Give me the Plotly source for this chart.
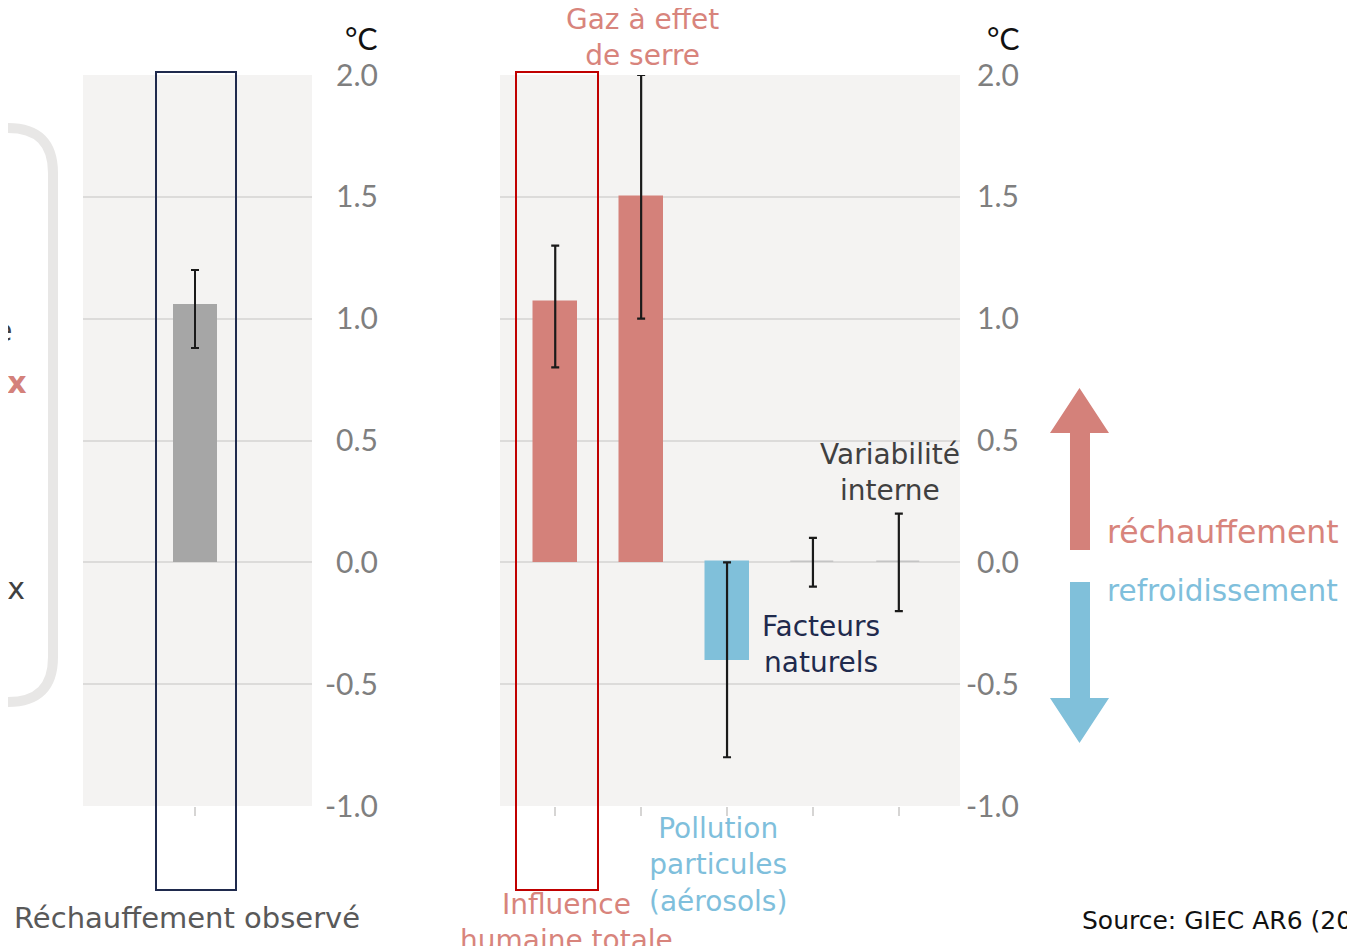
import plotly.graph_objects as go

# ---------------- data ----------------
obs_categories = ["Réchauffement observé"]
obs_values = [1.06]
obs_low = [0.88]
obs_high = [1.20]

attr_categories = ["Influence humaine totale", "Gaz à effet de serre",
                   "Pollution particules (aérosols)", "Facteurs naturels",
                   "Variabilité interne"]
attr_values = [1.07, 1.50, -0.40, 0.00, 0.00]
attr_low = [0.80, 1.00, -0.80, -0.10, -0.20]
attr_high = [1.30, 2.00, 0.00, 0.10, 0.20]

y_tickvals = [-1.0, -0.5, 0.0, 0.5, 1.0, 1.5, 2.0]
y_ticktext = ["-1.0", "-0.5", "0.0", "0.5", "1.0", "1.5", "2.0"]

# ---------------- styles ----------------
W, H = 1355, 946
OFF = 8  # page body margin
RED = "#d4817a"
RED_TXT = "#d8847c"
BLUE = "#80c0da"
BLUE_TXT = "#7fbfdc"
GREY_BAR = "#a6a6a6"
NAVY = "#1f2a4d"
BG = "#f4f3f2"
GRID = "#dcdbda"
FONT = "DejaVu Sans"
TICKFONT = "Lato"


def px(x):
    return (x - OFF) / W


def py(y):
    return 1 - (y - OFF) / H


def path(points, close=True):
    s = "M " + " L ".join(f"{px(x):.5f},{py(y):.5f}" for x, y in points)
    return s + (" Z" if close else "")


def err(vals, low, high):
    plus = [h - v for v, h in zip(vals, high)]
    minus = [v - l for v, l in zip(vals, low)]
    return dict(type="data", symmetric=False, array=plus, arrayminus=minus,
                color="#1a1a1a", thickness=2.2, width=4)


fig = go.Figure()

fig.add_trace(go.Bar(
    x=obs_categories, y=obs_values, width=0.5,
    marker=dict(color=GREY_BAR, line=dict(width=0)),
    error_y=err(obs_values, obs_low, obs_high),
    xaxis="x", yaxis="y", showlegend=False, hoverinfo="skip"))

attr_colors = [RED, RED, BLUE, "#c4c4c4", "#c4c4c4"]
fig.add_trace(go.Bar(
    x=attr_categories, y=attr_values, width=0.5,
    marker=dict(color=attr_colors, line=dict(width=1.5, color=attr_colors)),
    error_y=err(attr_values, attr_low, attr_high),
    xaxis="x2", yaxis="y2", showlegend=False, hoverinfo="skip"))

ydom = [py(806), py(75)]
common_y = dict(range=[-1, 2], domain=ydom, tickvals=y_tickvals, ticktext=y_ticktext,
                showgrid=True, gridcolor=GRID, gridwidth=2, zeroline=False,
                showline=False, ticks="", side="left", anchor="free",
                automargin=False,
                tickfont=dict(family=TICKFONT, size=30, color="#7f7f7f"),
                fixedrange=True)
common_x = dict(type="category", showticklabels=False, showgrid=False,
                zeroline=False, showline=False, ticks="outside", ticklen=9,
                tickwidth=2, tickcolor="#d6d5d4", fixedrange=True, automargin=False)

fig.update_layout(
    width=W, height=H,
    margin=dict(l=0, r=0, t=0, b=0, pad=0, autoexpand=False),
    paper_bgcolor="white", plot_bgcolor=BG,
    bargap=0,
    xaxis=dict(common_x, domain=[px(83), px(312)], range=[-1.273, 1.33], anchor="y"),
    yaxis=dict(common_y, position=px(378)),
    xaxis2=dict(common_x, domain=[px(500), px(960)], range=[-0.643, 4.712], anchor="y2"),
    yaxis2=dict(common_y, position=px(1019)),
)

shapes = []
# left rounded frame (partially visible)
shapes.append(dict(type="path", xref="paper", yref="paper",
                   path=(f"M {px(-30):.5f},{py(128):.5f} L {px(8):.5f},{py(128):.5f} "
                         f"Q {px(53):.5f},{py(128):.5f} {px(53):.5f},{py(173):.5f} "
                         f"L {px(53):.5f},{py(657):.5f} "
                         f"Q {px(53):.5f},{py(702):.5f} {px(8):.5f},{py(702):.5f} "
                         f"L {px(-30):.5f},{py(702):.5f}"),
                   line=dict(color="#e8e7e6", width=10)))
# highlight boxes
shapes.append(dict(type="rect", xref="paper", yref="paper",
                   x0=px(156), x1=px(236), y0=py(890), y1=py(72),
                   line=dict(color=NAVY, width=2)))
shapes.append(dict(type="rect", xref="paper", yref="paper",
                   x0=px(516), x1=px(598), y0=py(890), y1=py(72),
                   line=dict(color="#c00000", width=2)))
# arrows
shapes.append(dict(type="path", xref="paper", yref="paper",
                   path=path([(1070, 550), (1070, 433), (1050, 433), (1079.5, 388),
                              (1109, 433), (1090, 433), (1090, 550)]),
                   fillcolor=RED, line=dict(width=0)))
shapes.append(dict(type="path", xref="paper", yref="paper",
                   path=path([(1070, 582), (1090, 582), (1090, 698), (1109, 698),
                              (1079.5, 743), (1050, 698), (1070, 698)]),
                   fillcolor=BLUE, line=dict(width=0)))
fig.update_layout(shapes=shapes)

ann = []


def add(text, x, y, color, size, xanchor="center", family=FONT):
    ann.append(dict(text=text, x=px(x), y=py(y), xref="paper", yref="paper",
                    xanchor=xanchor, yanchor="middle", showarrow=False,
                    align="center" if xanchor == "center" else "left",
                    font=dict(family=family, size=size, color=color)))


add("°C", 361, 38, "#111111", 30, family=TICKFONT)
add("°C", 1003, 38, "#111111", 30, family=TICKFONT)
add("Gaz à effet<br>de serre", 642, 37, RED_TXT, 28)
add("Variabilité<br>interne", 890, 472, "#404040", 28)
add("Facteurs<br>naturels", 821, 644, NAVY, 28)
add("Pollution<br>particules<br>(aérosols)", 718, 865, BLUE_TXT, 28)
add("Influence<br>humaine totale", 566, 922, RED_TXT, 28)
add("Réchauffement observé", 12, 918, "#595959", 29, xanchor="left")
add("Source: GIEC AR6 (2021)", 1080, 920, "#111111", 25, xanchor="left")
add("réchauffement", 1105, 532, RED_TXT, 31.5, xanchor="left")
add("refroidissement", 1105, 591, BLUE_TXT, 29.5, xanchor="left")
# cut-off text from the slide's left side
ann.append(dict(text="température moyenne", x=px(14), y=py(330), xref="paper", yref="paper",
                xanchor="right", yanchor="middle", showarrow=False,
                font=dict(family=FONT, size=30, color="#404040")))
ann.append(dict(text="<b>facteurs principaux</b>", x=px(29), y=py(382), xref="paper", yref="paper",
                xanchor="right", yanchor="middle", showarrow=False,
                font=dict(family=FONT, size=30, color=RED)))
ann.append(dict(text="facteurs globaux", x=px(27), y=py(588), xref="paper", yref="paper",
                xanchor="right", yanchor="middle", showarrow=False,
                font=dict(family=FONT, size=30, color="#404040")))
fig.update_layout(annotations=ann)

fig.write_html("out.html")
